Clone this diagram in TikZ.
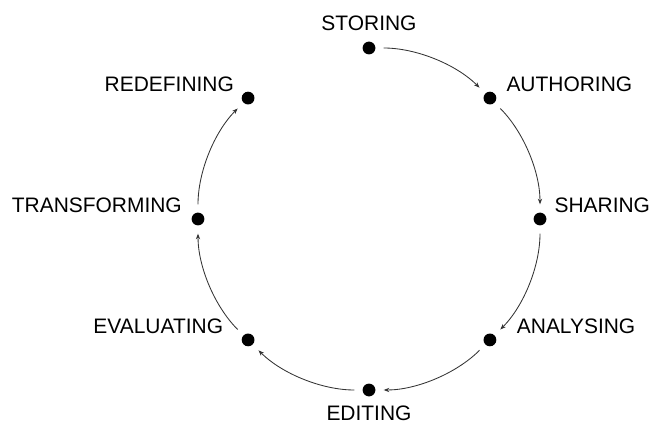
\documentclass[tikz,border=0pt]{standalone}
\usepackage{fontspec}
\setmainfont{Liberation Sans}
\usepackage{tikz}
\usetikzlibrary{positioning, arrows.meta}

\begin{document}
\begin{tikzpicture}[
    dot/.style={circle, fill=black, inner sep=0pt, minimum size=0.32cm},
    lbl/.style={inner sep=0pt, font=\fontsize{14.9}{17}\selectfont},
    flow/.style={-{Stealth[length=4pt,width=3pt]}, draw=black!80, line width=0.6pt,
                 shorten <=0.2cm, shorten >=0.2cm, bend left=22.5, looseness=0.88}
]

% Fix the picture size
\useasboundingbox (-9.225,-5.125) rectangle (7.15,5.475);

% Stages on the circle
\node[dot] (st) at (90:4.275) {};
\node[dot] (au) at (45:4.275) {};
\node[dot] (sh) at (0:4.275) {};
\node[dot] (an) at (-45:4.275) {};
\node[dot] (ed) at (-90:4.275) {};
\node[dot] (ev) at (-135:4.275) {};
\node[dot] (tr) at (180:4.275) {};
\node[dot] (re) at (135:4.275) {};

% Stage names
\node[lbl, above=0.27cm of st] (st-t) {STORING};
\node[lbl, above right=0.04cm and 0.29cm of au] (au-t) {AUTHORING};
\node[lbl, above right=0.04cm and 0.24cm of sh] (sh-t) {SHARING};
\node[lbl, above right=0.03cm and 0.55cm of an] (an-t) {ANALYSING};
\node[lbl, below=0.23cm of ed] (ed-t) {EDITING};
\node[lbl, above left=0.03cm and 0.5cm of ev] (ev-t) {EVALUATING};
\node[lbl, above left=0.03cm and 0.28cm of tr] (tr-t) {TRANSFORMING};
\node[lbl, above left=0.03cm and 0.23cm of re] (re-t) {REDEFINING};

% Arrows along the circle
\draw[flow] (st) to (au);
\draw[flow] (au) to (sh);
\draw[flow] (sh) to (an);
\draw[flow] (an) to (ed);
\draw[flow] (ed) to (ev);
\draw[flow] (ev) to (tr);
\draw[flow] (tr) to (re);

\end{tikzpicture}
\end{document}
